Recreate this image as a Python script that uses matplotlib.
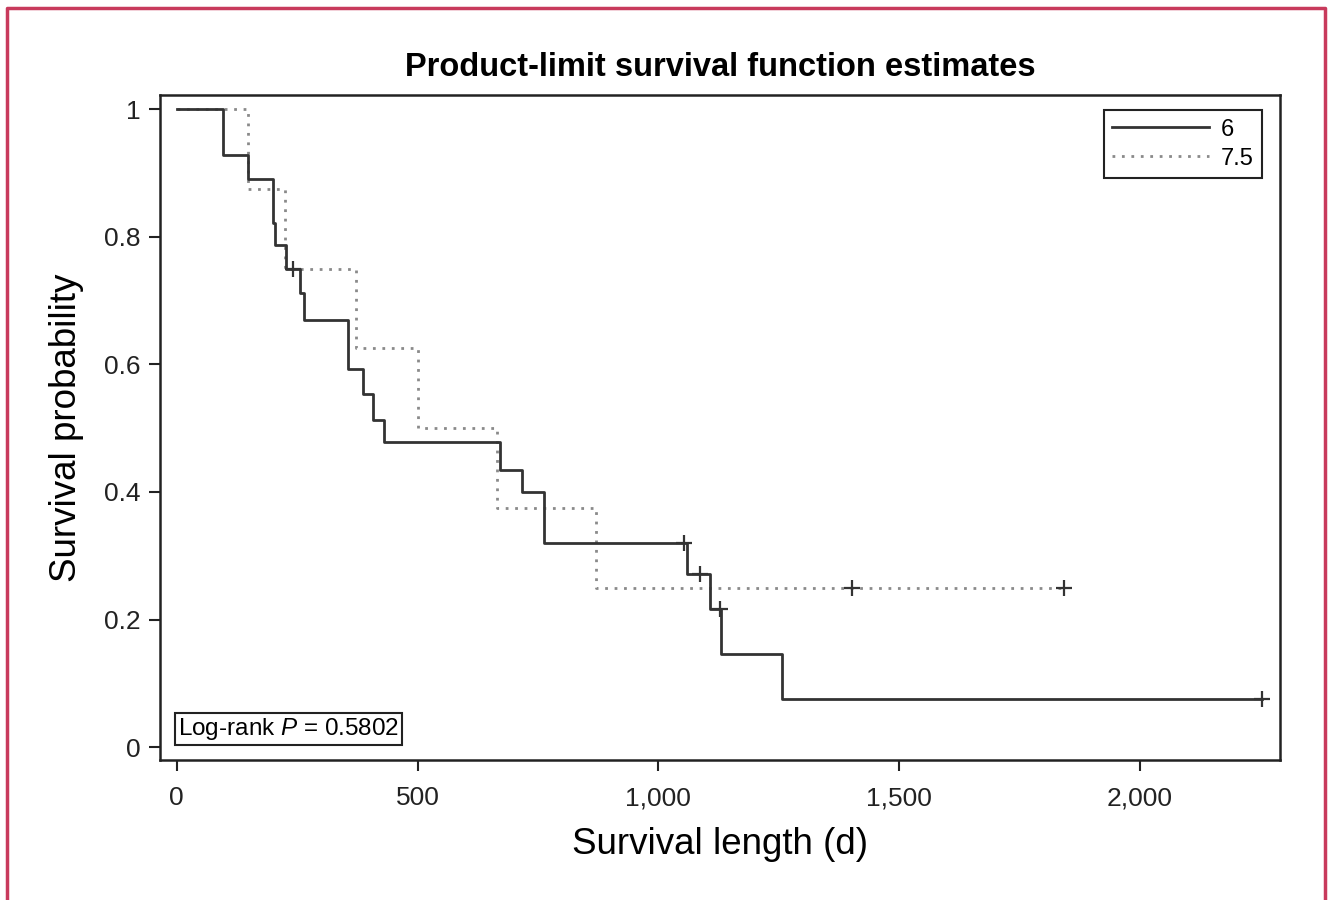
import numpy as np
import matplotlib
matplotlib.use("Agg")
import matplotlib.pyplot as plt
from matplotlib.lines import Line2D

plt.rcParams['font.family'] = ['Liberation Sans', 'DejaVu Sans']
plt.rcParams['mathtext.fontset'] = 'custom'
plt.rcParams['mathtext.rm'] = 'Liberation Sans'
plt.rcParams['mathtext.it'] = 'Liberation Sans:italic'

# group "6": event times (days) and survival after each step
grp6_times = [0, 95, 147, 200, 204, 227, 255, 264, 356, 387, 408, 431, 671, 717, 762, 1060, 1107, 1130, 1258]
grp6_surv = [1.0, 0.928, 0.891, 0.822, 0.787, 0.750, 0.711, 0.670, 0.592, 0.553, 0.513, 0.478, 0.435, 0.400, 0.320, 0.271, 0.217, 0.146, 0.076]
grp6_cens_t = [242, 1053, 1086, 1128, 2254]
grp6_cens_s = [0.750, 0.320, 0.271, 0.217, 0.076]

# group "7.5"
grp75_times = [0, 147, 224, 373, 501, 666, 870]
grp75_surv = [1.0, 0.875, 0.750, 0.625, 0.500, 0.375, 0.250]
grp75_cens_t = [1402, 1843]
grp75_cens_s = [0.250, 0.250]

xticks = [0, 500, 1000, 1500, 2000]
xtick_labels = ['0', '500', '1,000', '1,500', '2,000']
yticks = [0, 0.2, 0.4, 0.6, 0.8, 1]
ytick_labels = ['0', '0.2', '0.4', '0.6', '0.8', '1']

fig = plt.figure(figsize=(13.33, 9), dpi=100)
ax = fig.add_axes([0.120, 0.1556, 0.840, 0.7388])

# extend each curve to its last observation
t6 = grp6_times + [max(grp6_cens_t)]
s6 = grp6_surv + [grp6_surv[-1]]
t75 = grp75_times + [max(grp75_cens_t)]
s75 = grp75_surv + [grp75_surv[-1]]

ax.step(t75, s75, where='post', color='#8a8a8a', lw=2.0,
        linestyle=(0, (1, 2.4)), label='7.5')
ax.step(t6, s6, where='post', color='#333333', lw=2.0, label='6')
ax.plot(grp6_cens_t, grp6_cens_s, '+', color='#333333', ms=12, mew=1.6)
ax.plot(grp75_cens_t, grp75_cens_s, '+', color='#333333', ms=12, mew=1.6)

ax.set_xlim(-35, 2291)
ax.set_ylim(-0.020, 1.022)
ax.set_xticks(xticks)
ax.set_xticklabels(xtick_labels)
ax.set_yticks(yticks)
ax.set_yticklabels(ytick_labels)
ax.tick_params(direction='out', length=8, width=1.5, labelsize=19, colors='#222222')
ax.tick_params(axis='x', pad=11)
ax.tick_params(axis='y', pad=6)

for sp in ax.spines.values():
    sp.set_linewidth(1.8)
    sp.set_color('#222222')

ax.set_title('Product-limit survival function estimates', fontsize=23.5,
             fontweight='bold', pad=14)
ax.set_xlabel('Survival length (d)', fontsize=26.5, labelpad=12)
ax.set_ylabel('Survival probability', fontsize=26.5, labelpad=14)

handles, labels = ax.get_legend_handles_labels()
leg = ax.legend(handles[::-1], labels[::-1], loc='upper right',
                bbox_to_anchor=(0.984, 0.977), borderaxespad=0,
                fontsize=17, handlelength=4.1, fancybox=False,
                edgecolor='#222222', framealpha=1, borderpad=0.35,
                labelspacing=0.3, handletextpad=0.5)
leg.get_frame().set_linewidth(1.5)

ax.text(0.016, 0.047, r'Log-rank $P$ = 0.5802', transform=ax.transAxes,
        fontsize=17.5, va='center', ha='left',
        bbox=dict(boxstyle='square,pad=0.12', fc='white', ec='#222222', lw=1.5))

# pink frame around the figure
fig.add_artist(Line2D([7/1333, 7/1333, 1325/1333, 1325/1333],
                      [0, 1 - 8/900, 1 - 8/900, 0],
                      transform=fig.transFigure, color='#c83a5c', lw=2.5))

fig.savefig('out.png', dpi=100)
